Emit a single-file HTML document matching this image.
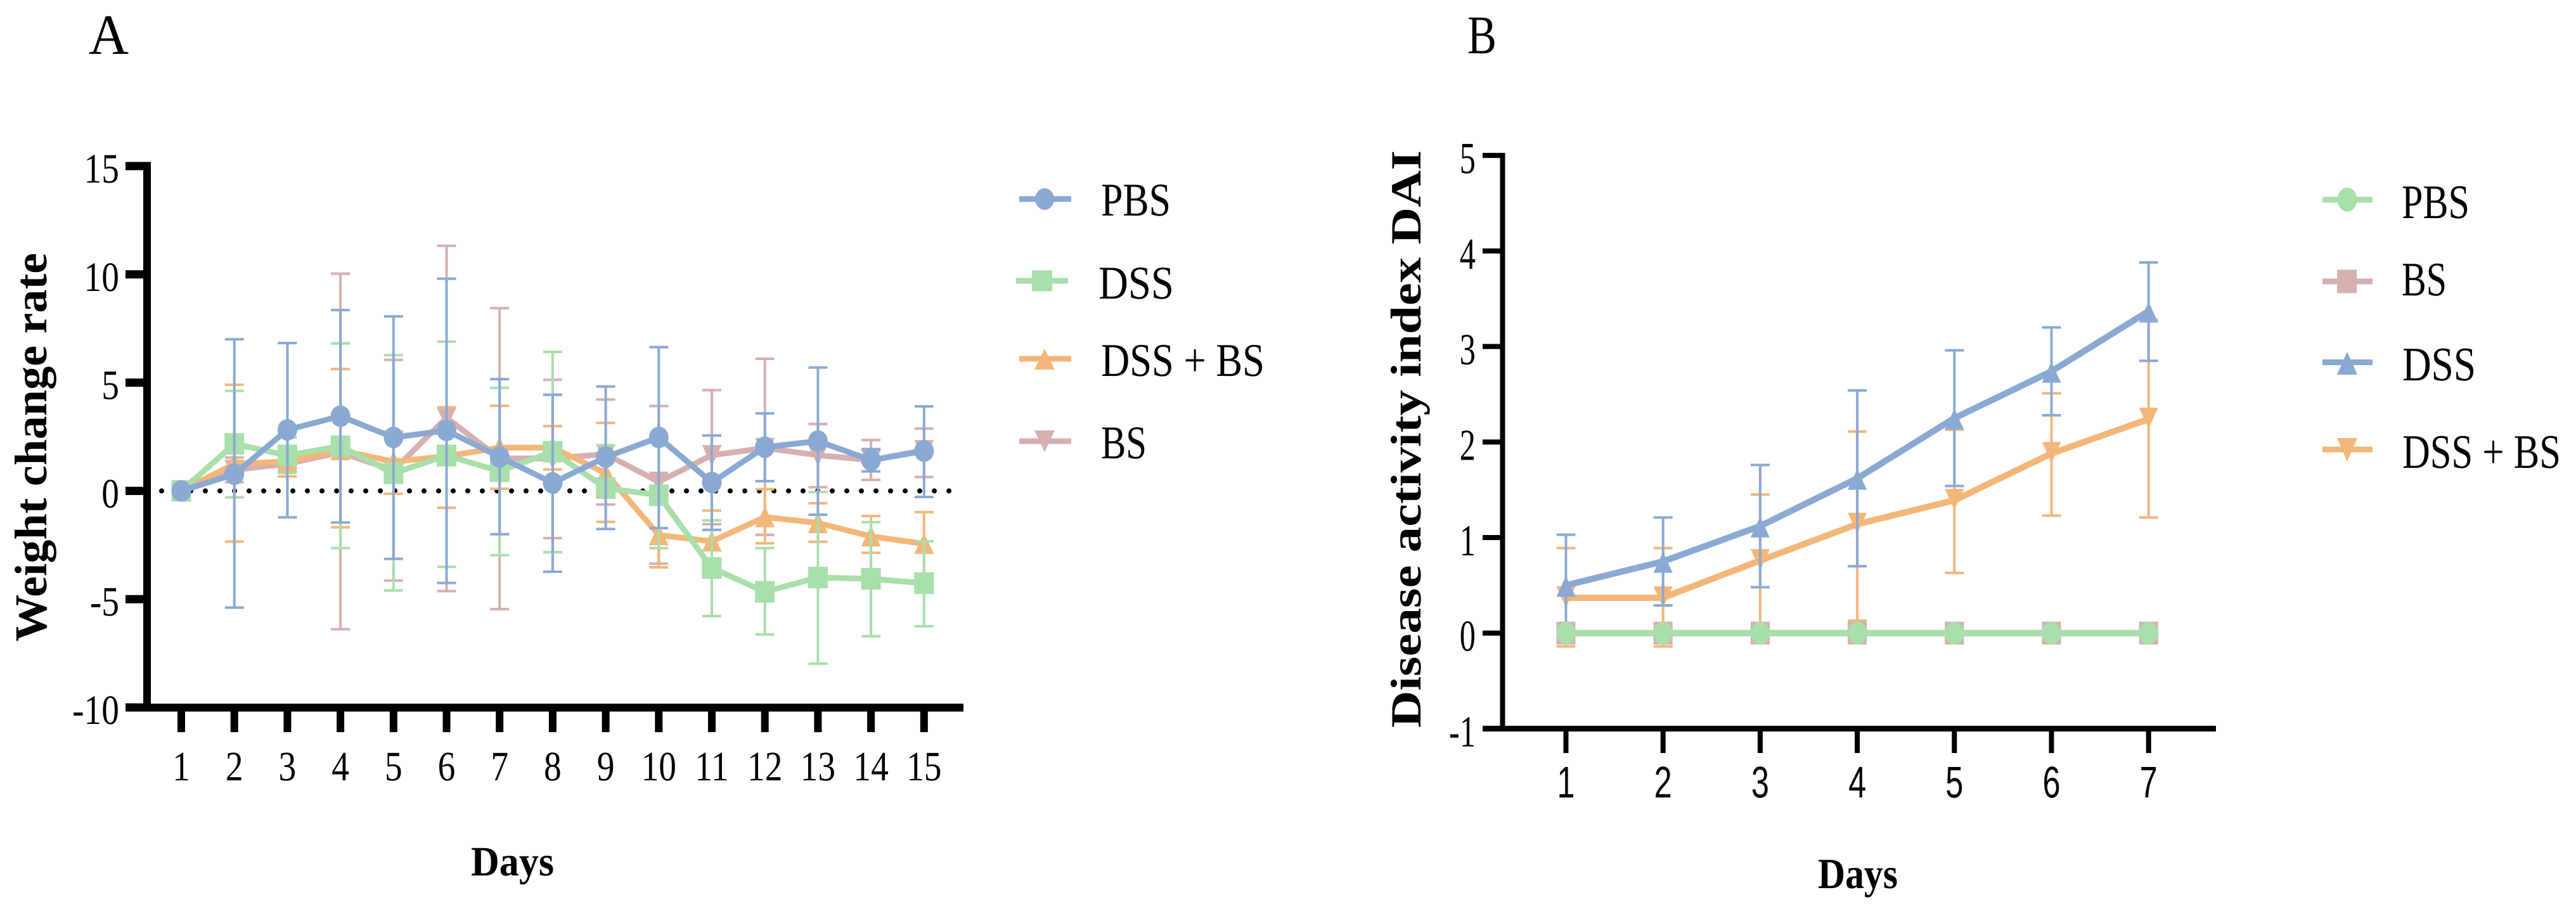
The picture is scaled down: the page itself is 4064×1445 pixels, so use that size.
<!DOCTYPE html>
<html lang="en">
<head>
<meta charset="utf-8">
<title>Weight change rate and disease activity index</title>
<style>
  html, body { margin: 0; padding: 0; background: #fff; }
  body { width: 4064px; height: 1445px; overflow: hidden; }
  svg { display: block; }
  text { font-family: "Liberation Serif", serif; fill: #000; text-rendering: geometricPrecision; }
  .title { font-weight: bold; }
</style>
</head>
<body>
<svg id="figure" xmlns="http://www.w3.org/2000/svg" width="4064" height="1445" viewBox="0 0 4064 1445">
  <rect x="0" y="0" width="4064" height="1445" fill="#fff"/>

  <text x="140" y="85" font-size="90" textLength="63" lengthAdjust="spacingAndGlyphs">A</text>
  <text x="2315" y="84" font-size="86" textLength="46" lengthAdjust="spacingAndGlyphs">B</text>

  <g id="chartA"></g>
  <g id="chartB"></g>

  <text class="title" transform="translate(73,1012) rotate(-90)" font-size="72" textLength="613" lengthAdjust="spacingAndGlyphs">Weight change rate</text>
  <text class="title" x="743" y="1381" font-size="66" textLength="131" lengthAdjust="spacingAndGlyphs">Days</text>
  <text class="title" transform="translate(2241,1148) rotate(-90)" font-size="68" textLength="911" lengthAdjust="spacingAndGlyphs">Disease activity index DAI</text>
  <text class="title" x="2868" y="1401" font-size="68" textLength="126" lengthAdjust="spacingAndGlyphs">Days</text>

  <g>
    <g>
      <rect x="1608" y="309.500" width="82" height="9" fill="#8AA9D3"/>
      <ellipse cx="1648" cy="314" rx="15" ry="17" fill="#8AA9D3"/>
      <text x="1737" y="340" font-size="74" textLength="110" lengthAdjust="spacingAndGlyphs">PBS</text>
    </g>
    <g>
      <rect x="1603" y="438.500" width="82" height="9" fill="#A8DFAA"/>
      <rect x="1628" y="426.500" width="32" height="33" fill="#A8DFAA"/>
      <text x="1733" y="471" font-size="74" textLength="119" lengthAdjust="spacingAndGlyphs">DSS</text>
    </g>
    <g>
      <rect x="1608" y="561.500" width="82" height="9" fill="#F3B679"/>
      <polygon points="1648,550 1664,583 1632,583" fill="#F3B679"/>
      <text x="1737" y="593" font-size="74" textLength="258" lengthAdjust="spacingAndGlyphs">DSS + BS</text>
    </g>
    <g>
      <rect x="1608" y="691.500" width="82" height="9" fill="#D6B0B1"/>
      <polygon points="1632,679 1664,679 1648,713" fill="#D6B0B1"/>
      <text x="1737" y="723" font-size="74" textLength="72" lengthAdjust="spacingAndGlyphs">BS</text>
    </g>
  </g>

  <g>
    <g>
      <rect x="3664" y="310.500" width="79" height="9" fill="#A8DFAA"/>
      <ellipse cx="3703" cy="315" rx="15.500" ry="19" fill="#A8DFAA"/>
      <text x="3789" y="344" font-size="76" textLength="107" lengthAdjust="spacingAndGlyphs">PBS</text>
    </g>
    <g>
      <rect x="3664" y="439.500" width="79" height="9" fill="#D6B0B1"/>
      <rect x="3687" y="425.500" width="31" height="37" fill="#D6B0B1"/>
      <text x="3789" y="466" font-size="76" textLength="71" lengthAdjust="spacingAndGlyphs">BS</text>
    </g>
    <g>
      <rect x="3664" y="567" width="79" height="9" fill="#8AA9D3"/>
      <polygon points="3703,555 3719,591 3687,591" fill="#8AA9D3"/>
      <text x="3790" y="600" font-size="76" textLength="116" lengthAdjust="spacingAndGlyphs">DSS</text>
    </g>
    <g>
      <rect x="3664" y="704.500" width="79" height="9" fill="#F3B679"/>
      <polygon points="3687,691 3719,691 3703,728" fill="#F3B679"/>
      <text x="3790" y="738" font-size="76" textLength="250" lengthAdjust="spacingAndGlyphs">DSS + BS</text>
    </g>
  </g>
</svg>

<script>
// ---- Panel A data ----
const weightDays = [1,2,3,4,5,6,7,8,9,10,11,12,13,14,15];
const weightYTicks = [15,10,5,0,-5,-10];

const weightPbsMean  = [0,0.77,2.82,3.45,2.47,2.79,1.57,0.37,1.56,2.47,0.39,2.02,2.3,1.42,1.84];
const weightPbsUpper = [0,7.0,6.83,8.35,8.06,9.8,5.16,4.44,4.82,6.64,2.56,3.58,5.7,1.93,3.9];
const weightPbsLower = [0,-5.39,-1.22,-1.46,-3.14,-4.25,-2.0,-3.73,-1.76,-1.72,-1.8,0.45,-1.1,0.9,-0.28];

const weightDssMean  = [0,2.17,1.64,2.06,0.81,1.64,0.91,1.81,0.13,-0.2,-3.56,-4.66,-4.0,-4.06,-4.26];
const weightDssUpper = [0,4.62,2.47,6.81,6.27,6.89,4.76,6.42,2.1,2.24,-1.36,-2.64,-0.05,-1.44,-2.33];
const weightDssLower = [0,-0.3,0.83,-2.64,-4.6,-3.51,-2.97,-2.83,-1.76,-2.64,-5.78,-6.63,-7.98,-6.71,-6.25];

const weightComboMean  = [0,1.25,1.36,1.88,1.35,1.6,2.0,2.0,0.82,-2.04,-2.33,-1.21,-1.48,-2.1,-2.44];
const weightComboUpper = [0,4.9,2.05,5.63,2.74,3.86,3.93,2.99,3.14,-0.55,-0.91,0.08,-0.57,-1.16,-0.98];
const weightComboLower = [0,-2.34,0.67,-1.68,-0.13,-0.78,0.1,0.99,-1.43,-3.53,-3.75,-2.42,-2.35,-2.86,-3.9];

const weightBsMean  = [0,0.97,1.25,1.78,0.95,3.38,1.5,1.5,1.7,0.42,1.65,1.98,1.65,1.42,1.88];
const weightBsUpper = [0,1.54,1.45,10.03,6.05,11.32,8.44,5.13,4.22,3.92,4.65,6.1,3.09,2.35,2.88];
const weightBsLower = [0,0.4,1.06,-6.39,-4.14,-4.63,-5.46,-2.18,-0.63,-3.36,-1.54,-2.03,0.17,0.51,0.64];

// ---- Panel B data ----
const daiDays = [1,2,3,4,5,6,7];
const daiYTicks = [5,4,3,2,1,0,-1];

const daiPbsMean  = [0,0,0,0,0,0,0];
const daiPbsUpper = [0,0,0,0,0,0,0];
const daiPbsLower = [0,0,0,0,0,0,0];

const daiBsMean  = [0,0,0,0,0,0,0];
const daiBsUpper = [0,0,0,0,0,0,0];
const daiBsLower = [0,0,0,0,0,0,0];

const daiDssMean  = [0.5,0.75,1.12,1.62,2.25,2.74,3.37];
const daiDssUpper = [1.03,1.21,1.76,2.54,2.96,3.2,3.88];
const daiDssLower = [-0.03,0.29,0.48,0.7,1.54,2.28,2.85];

const daiComboMean  = [0.37,0.37,0.76,1.14,1.39,1.88,2.24];
const daiComboUpper = [0.89,0.89,1.45,2.11,2.13,2.51,3.28];
const daiComboLower = [-0.14,-0.14,0.07,0.13,0.63,1.23,1.21];

const BLUE = '#8AA9D3', GREEN = '#A8DFAA', ORANGE = '#F3B679', ROSE = '#D6B0B1';
const NS = 'http://www.w3.org/2000/svg';

function mk(parent, tag, attrs) {
  const el = document.createElementNS(NS, tag);
  for (const k in attrs) el.setAttribute(k, attrs[k]);
  parent.appendChild(el);
  return el;
}

// Axis functions
const xA = d => 286 + (d - 1) * 83.7;
const yA = v => 774.4 - v * 34.16;
const xB = d => 2470.5 + (d - 1) * 153.2;
const yB = v => 998.7 - v * 150.7;

function drawMarker(group, shape, color, x, y, rx, ry, up, down, seriesKey) {
  let el;
  if (shape === 'circle') {
    el = mk(group, 'ellipse', { cx: x, cy: y, rx: rx, ry: ry, fill: color });
  } else if (shape === 'square') {
    el = mk(group, 'rect', { x: x - rx, y: y - ry, width: rx * 2, height: ry * 2, fill: color });
  } else if (shape === 'up') {
    el = mk(group, 'polygon', { points: `${x},${y - up} ${x + rx},${y + down} ${x - rx},${y + down}`, fill: color });
  } else {
    el = mk(group, 'polygon', { points: `${x},${y + up} ${x + rx},${y - down} ${x - rx},${y - down}`, fill: color });
  }
  
  
}

function drawSeries(root, key, color, shape, days, mean, upper, lower, xf, yf, m) {
  const g = mk(root, 'g', {});
  
  

  days.forEach((d, i) => {
    const x = xf(d);
    const stem = mk(g, 'line', { x1: x, x2: x, y1: yf(upper[i]), y2: yf(lower[i]), stroke: color, 'stroke-width': 4 });
    
    
    const capTop = mk(g, 'line', { x1: x - 15, x2: x + 15, y1: yf(upper[i]), y2: yf(upper[i]), stroke: color, 'stroke-width': 4 });
    
    
    const capBottom = mk(g, 'line', { x1: x - 15, x2: x + 15, y1: yf(lower[i]), y2: yf(lower[i]), stroke: color, 'stroke-width': 4 });
    
    
  });

  const pts = days.map((d, i) => xf(d) + ',' + yf(mean[i])).join(' ');
  const line = mk(g, 'polyline', { points: pts, fill: 'none', stroke: color, 'stroke-width': m.lw, 'stroke-linejoin': 'miter' });
  
  

  days.forEach((d, i) => {
    drawMarker(g, shape, color, xf(d), yf(mean[i]), m.rx, m.ry, m.up, m.down, key);
  });
}

function scaledText(parent, x, y, str, size, sx, anchor, family) {
  const t = mk(parent, 'text', {
    transform: `translate(${x},${y}) scale(${sx},1)`,
    'font-size': size,
    'text-anchor': anchor
  });
  if (family) t.setAttribute('style', 'font-family:' + family);
  t.textContent = str;
  return t;
}

// ---------- Panel A ----------
const chartA = document.getElementById('chartA');

const axesA = mk(chartA, 'g', { fill: '#000' });



const yAxisLineA = mk(axesA, 'rect', { x: 226, y: yA(15) - 6.5, width: 12, height: yA(-10) - yA(15) + 12.5 });



const xAxisLineA = mk(axesA, 'rect', { x: 198, y: yA(-10) - 6, width: 1322, height: 12.5 });



weightYTicks.forEach(v => {
  const tick = mk(axesA, 'rect', { x: 198, y: yA(v) - 6.5, width: 34, height: 13 });
  
  
  const label = scaledText(axesA, 188, yA(v) + 26, String(v), 66, 0.84, 'end');
  
  
});

weightDays.forEach(d => {
  const tick = mk(axesA, 'rect', { x: xA(d) - 6, y: yA(-10), width: 12, height: 39 });
  
  
  const label = scaledText(axesA, xA(d), 1231, String(d), 66, 0.84, 'middle');
  
  
});

const zeroLine = mk(chartA, 'line', {
  x1: 255, x2: 1500, y1: yA(0), y2: yA(0),
  stroke: '#000', 'stroke-width': 8, 'stroke-linecap': 'round', 'stroke-dasharray': '0 23'
});



const mA = { lw: 9, rx: 15.5, ry: 17, up: 17, down: 16 };
drawSeries(chartA, 'weight-bs', ROSE, 'down', weightDays, weightBsMean, weightBsUpper, weightBsLower, xA, yA, mA);
drawSeries(chartA, 'weight-dss-bs', ORANGE, 'up', weightDays, weightComboMean, weightComboUpper, weightComboLower, xA, yA, mA);
drawSeries(chartA, 'weight-dss', GREEN, 'square', weightDays, weightDssMean, weightDssUpper, weightDssLower, xA, yA, mA);
drawSeries(chartA, 'weight-pbs', BLUE, 'circle', weightDays, weightPbsMean, weightPbsUpper, weightPbsLower, xA, yA, mA);

// ---------- Panel B ----------
const chartB = document.getElementById('chartB');

const axesB = mk(chartB, 'g', { fill: '#000' });



const yAxisLineB = mk(axesB, 'rect', { x: 2366.5, y: yB(5) - 4, width: 8, height: yB(-1) - yB(5) + 8 });



const xAxisLineB = mk(axesB, 'rect', { x: 2339, y: yB(-1) - 4.5, width: 1157, height: 9 });



daiYTicks.forEach(v => {
  const tick = mk(axesB, 'rect', { x: 2339, y: yB(v) - 4, width: 30, height: 8 });
  
  
  const label = scaledText(axesB, 2328, yB(v) + 28, String(v), 70, 0.72, 'end');
  
  
});

daiDays.forEach(d => {
  const tick = mk(axesB, 'rect', { x: xB(d) - 4, y: yB(-1), width: 8, height: 38.5 });
  
  
  const label = scaledText(axesB, xB(d), 1258, String(d), 70, 0.72, 'middle', '"Liberation Sans",sans-serif');
  
  
});

const mB = { lw: 10, rx: 15, ry: 18, up: 15, down: 18 };
drawSeries(chartB, 'dai-dss-bs', ORANGE, 'down', daiDays, daiComboMean, daiComboUpper, daiComboLower, xB, yB, mB);
drawSeries(chartB, 'dai-dss', BLUE, 'up', daiDays, daiDssMean, daiDssUpper, daiDssLower, xB, yB, mB);
drawSeries(chartB, 'dai-bs', ROSE, 'square', daiDays, daiBsMean, daiBsUpper, daiBsLower, xB, yB, mB);
drawSeries(chartB, 'dai-pbs', GREEN, 'circle', daiDays, daiPbsMean, daiPbsUpper, daiPbsLower, xB, yB, mB);
</script>
</body>
</html>
